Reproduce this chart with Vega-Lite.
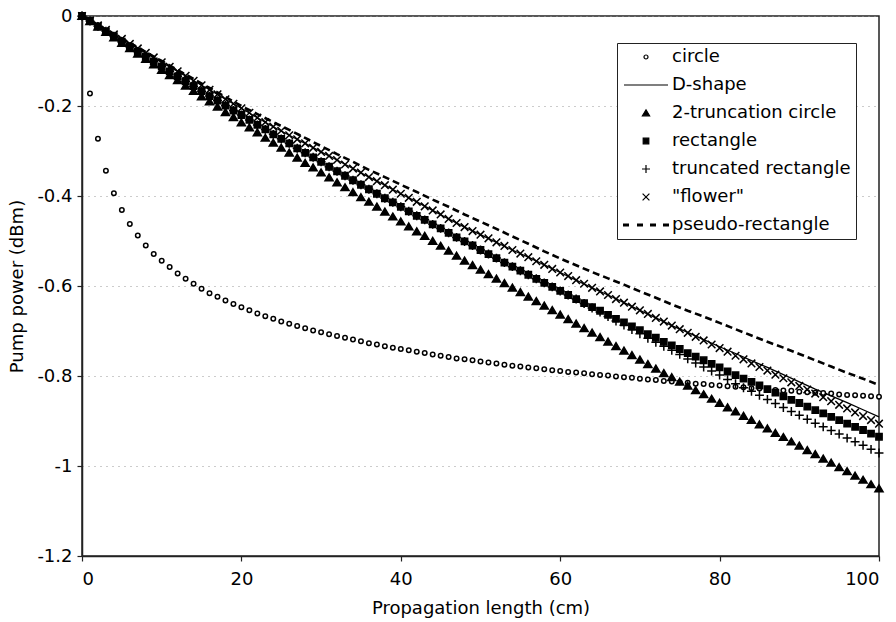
{
"$schema": "https://vega.github.io/schema/vega-lite/v6.json",
"width": 797, "height": 540,
"autosize": {"type": "none"},
"padding": {"left": 82, "top": 16, "right": 17, "bottom": 66},
"background": "white",
"config": {
  "font": "DejaVu Sans",
  "view": {"stroke": "#222", "strokeWidth": 1.5},
  "axis": {"labelFont": "DejaVu Sans", "titleFont": "DejaVu Sans", "labelFontSize": 18, "titleFontSize": 18, "titleFontWeight": "normal", "labelColor": "black", "titleColor": "black", "domainColor": "#222", "domainWidth": 1.5, "tickColor": "#222", "tickWidth": 1.2, "tickSize": 5}
},
"data": {"values": [
{"x":0,"s":"ci","y":0},{"x":1,"s":"ci","y":-0.172},{"x":2,"s":"ci","y":-0.273},{"x":3,"s":"ci","y":-0.344},{"x":4,"s":"ci","y":-0.394},{"x":5,"s":"ci","y":-0.431},{"x":6,"s":"ci","y":-0.462},{"x":7,"s":"ci","y":-0.488},{"x":8,"s":"ci","y":-0.51},{"x":9,"s":"ci","y":-0.529},{"x":10,"s":"ci","y":-0.544},{"x":11,"s":"ci","y":-0.558},{"x":12,"s":"ci","y":-0.572},{"x":13,"s":"ci","y":-0.584},{"x":14,"s":"ci","y":-0.595},{"x":15,"s":"ci","y":-0.606},{"x":16,"s":"ci","y":-0.616},{"x":17,"s":"ci","y":-0.624},{"x":18,"s":"ci","y":-0.632},{"x":19,"s":"ci","y":-0.64},{"x":20,"s":"ci","y":-0.647},{"x":21,"s":"ci","y":-0.654},{"x":22,"s":"ci","y":-0.661},{"x":23,"s":"ci","y":-0.667},{"x":24,"s":"ci","y":-0.673},{"x":25,"s":"ci","y":-0.679},{"x":26,"s":"ci","y":-0.684},{"x":27,"s":"ci","y":-0.689},{"x":28,"s":"ci","y":-0.694},{"x":29,"s":"ci","y":-0.699},{"x":30,"s":"ci","y":-0.703},{"x":31,"s":"ci","y":-0.707},{"x":32,"s":"ci","y":-0.711},{"x":33,"s":"ci","y":-0.715},{"x":34,"s":"ci","y":-0.719},{"x":35,"s":"ci","y":-0.723},{"x":36,"s":"ci","y":-0.727},{"x":37,"s":"ci","y":-0.73},{"x":38,"s":"ci","y":-0.734},{"x":39,"s":"ci","y":-0.737},{"x":40,"s":"ci","y":-0.74},{"x":41,"s":"ci","y":-0.743},{"x":42,"s":"ci","y":-0.746},{"x":43,"s":"ci","y":-0.749},{"x":44,"s":"ci","y":-0.752},{"x":45,"s":"ci","y":-0.755},{"x":46,"s":"ci","y":-0.758},{"x":47,"s":"ci","y":-0.761},{"x":48,"s":"ci","y":-0.763},{"x":49,"s":"ci","y":-0.765},{"x":50,"s":"ci","y":-0.768},{"x":51,"s":"ci","y":-0.77},{"x":52,"s":"ci","y":-0.772},{"x":53,"s":"ci","y":-0.775},{"x":54,"s":"ci","y":-0.777},{"x":55,"s":"ci","y":-0.779},{"x":56,"s":"ci","y":-0.781},{"x":57,"s":"ci","y":-0.783},{"x":58,"s":"ci","y":-0.785},{"x":59,"s":"ci","y":-0.787},{"x":60,"s":"ci","y":-0.789},{"x":61,"s":"ci","y":-0.791},{"x":62,"s":"ci","y":-0.792},{"x":63,"s":"ci","y":-0.794},{"x":64,"s":"ci","y":-0.796},{"x":65,"s":"ci","y":-0.798},{"x":66,"s":"ci","y":-0.799},{"x":67,"s":"ci","y":-0.801},{"x":68,"s":"ci","y":-0.803},{"x":69,"s":"ci","y":-0.804},{"x":70,"s":"ci","y":-0.806},{"x":71,"s":"ci","y":-0.808},{"x":72,"s":"ci","y":-0.809},{"x":73,"s":"ci","y":-0.811},{"x":74,"s":"ci","y":-0.812},{"x":75,"s":"ci","y":-0.814},{"x":76,"s":"ci","y":-0.815},{"x":77,"s":"ci","y":-0.817},{"x":78,"s":"ci","y":-0.818},{"x":79,"s":"ci","y":-0.82},{"x":80,"s":"ci","y":-0.821},{"x":81,"s":"ci","y":-0.823},{"x":82,"s":"ci","y":-0.824},{"x":83,"s":"ci","y":-0.825},{"x":84,"s":"ci","y":-0.827},{"x":85,"s":"ci","y":-0.828},{"x":86,"s":"ci","y":-0.829},{"x":87,"s":"ci","y":-0.831},{"x":88,"s":"ci","y":-0.832},{"x":89,"s":"ci","y":-0.833},{"x":90,"s":"ci","y":-0.835},{"x":91,"s":"ci","y":-0.836},{"x":92,"s":"ci","y":-0.837},{"x":93,"s":"ci","y":-0.838},{"x":94,"s":"ci","y":-0.839},{"x":95,"s":"ci","y":-0.841},{"x":96,"s":"ci","y":-0.842},{"x":97,"s":"ci","y":-0.843},{"x":98,"s":"ci","y":-0.844},{"x":99,"s":"ci","y":-0.845},{"x":100,"s":"ci","y":-0.846},
{"x":0,"s":"tr","y":0},{"x":1,"s":"tr","y":-0.012},{"x":2,"s":"tr","y":-0.024},{"x":3,"s":"tr","y":-0.036},{"x":4,"s":"tr","y":-0.048},{"x":5,"s":"tr","y":-0.06},{"x":6,"s":"tr","y":-0.072},{"x":7,"s":"tr","y":-0.084},{"x":8,"s":"tr","y":-0.096},{"x":9,"s":"tr","y":-0.108},{"x":10,"s":"tr","y":-0.12},{"x":11,"s":"tr","y":-0.132},{"x":12,"s":"tr","y":-0.143},{"x":13,"s":"tr","y":-0.155},{"x":14,"s":"tr","y":-0.167},{"x":15,"s":"tr","y":-0.179},{"x":16,"s":"tr","y":-0.19},{"x":17,"s":"tr","y":-0.202},{"x":18,"s":"tr","y":-0.214},{"x":19,"s":"tr","y":-0.225},{"x":20,"s":"tr","y":-0.237},{"x":21,"s":"tr","y":-0.248},{"x":22,"s":"tr","y":-0.259},{"x":23,"s":"tr","y":-0.271},{"x":24,"s":"tr","y":-0.282},{"x":25,"s":"tr","y":-0.293},{"x":26,"s":"tr","y":-0.304},{"x":27,"s":"tr","y":-0.315},{"x":28,"s":"tr","y":-0.327},{"x":29,"s":"tr","y":-0.337},{"x":30,"s":"tr","y":-0.348},{"x":31,"s":"tr","y":-0.359},{"x":32,"s":"tr","y":-0.37},{"x":33,"s":"tr","y":-0.381},{"x":34,"s":"tr","y":-0.392},{"x":35,"s":"tr","y":-0.403},{"x":36,"s":"tr","y":-0.413},{"x":37,"s":"tr","y":-0.424},{"x":38,"s":"tr","y":-0.435},{"x":39,"s":"tr","y":-0.446},{"x":40,"s":"tr","y":-0.457},{"x":41,"s":"tr","y":-0.468},{"x":42,"s":"tr","y":-0.479},{"x":43,"s":"tr","y":-0.489},{"x":44,"s":"tr","y":-0.5},{"x":45,"s":"tr","y":-0.511},{"x":46,"s":"tr","y":-0.522},{"x":47,"s":"tr","y":-0.533},{"x":48,"s":"tr","y":-0.544},{"x":49,"s":"tr","y":-0.554},{"x":50,"s":"tr","y":-0.564},{"x":51,"s":"tr","y":-0.574},{"x":52,"s":"tr","y":-0.584},{"x":53,"s":"tr","y":-0.594},{"x":54,"s":"tr","y":-0.604},{"x":55,"s":"tr","y":-0.614},{"x":56,"s":"tr","y":-0.624},{"x":57,"s":"tr","y":-0.634},{"x":58,"s":"tr","y":-0.644},{"x":59,"s":"tr","y":-0.654},{"x":60,"s":"tr","y":-0.664},{"x":61,"s":"tr","y":-0.674},{"x":62,"s":"tr","y":-0.684},{"x":63,"s":"tr","y":-0.694},{"x":64,"s":"tr","y":-0.704},{"x":65,"s":"tr","y":-0.714},{"x":66,"s":"tr","y":-0.724},{"x":67,"s":"tr","y":-0.734},{"x":68,"s":"tr","y":-0.744},{"x":69,"s":"tr","y":-0.754},{"x":70,"s":"tr","y":-0.764},{"x":71,"s":"tr","y":-0.774},{"x":72,"s":"tr","y":-0.784},{"x":73,"s":"tr","y":-0.794},{"x":74,"s":"tr","y":-0.803},{"x":75,"s":"tr","y":-0.813},{"x":76,"s":"tr","y":-0.822},{"x":77,"s":"tr","y":-0.832},{"x":78,"s":"tr","y":-0.841},{"x":79,"s":"tr","y":-0.851},{"x":80,"s":"tr","y":-0.86},{"x":81,"s":"tr","y":-0.87},{"x":82,"s":"tr","y":-0.879},{"x":83,"s":"tr","y":-0.889},{"x":84,"s":"tr","y":-0.898},{"x":85,"s":"tr","y":-0.908},{"x":86,"s":"tr","y":-0.917},{"x":87,"s":"tr","y":-0.927},{"x":88,"s":"tr","y":-0.936},{"x":89,"s":"tr","y":-0.946},{"x":90,"s":"tr","y":-0.955},{"x":91,"s":"tr","y":-0.965},{"x":92,"s":"tr","y":-0.974},{"x":93,"s":"tr","y":-0.984},{"x":94,"s":"tr","y":-0.993},{"x":95,"s":"tr","y":-1.003},{"x":96,"s":"tr","y":-1.012},{"x":97,"s":"tr","y":-1.022},{"x":98,"s":"tr","y":-1.031},{"x":99,"s":"tr","y":-1.041},{"x":100,"s":"tr","y":-1.05},
{"x":0,"s":"re","y":0},{"x":1,"s":"re","y":-0.011},{"x":2,"s":"re","y":-0.023},{"x":3,"s":"re","y":-0.034},{"x":4,"s":"re","y":-0.045},{"x":5,"s":"re","y":-0.057},{"x":6,"s":"re","y":-0.068},{"x":7,"s":"re","y":-0.079},{"x":8,"s":"re","y":-0.09},{"x":9,"s":"re","y":-0.101},{"x":10,"s":"re","y":-0.112},{"x":11,"s":"re","y":-0.123},{"x":12,"s":"re","y":-0.134},{"x":13,"s":"re","y":-0.145},{"x":14,"s":"re","y":-0.156},{"x":15,"s":"re","y":-0.167},{"x":16,"s":"re","y":-0.178},{"x":17,"s":"re","y":-0.188},{"x":18,"s":"re","y":-0.199},{"x":19,"s":"re","y":-0.21},{"x":20,"s":"re","y":-0.22},{"x":21,"s":"re","y":-0.231},{"x":22,"s":"re","y":-0.242},{"x":23,"s":"re","y":-0.252},{"x":24,"s":"re","y":-0.263},{"x":25,"s":"re","y":-0.273},{"x":26,"s":"re","y":-0.283},{"x":27,"s":"re","y":-0.294},{"x":28,"s":"re","y":-0.304},{"x":29,"s":"re","y":-0.314},{"x":30,"s":"re","y":-0.324},{"x":31,"s":"re","y":-0.335},{"x":32,"s":"re","y":-0.345},{"x":33,"s":"re","y":-0.355},{"x":34,"s":"re","y":-0.365},{"x":35,"s":"re","y":-0.375},{"x":36,"s":"re","y":-0.385},{"x":37,"s":"re","y":-0.395},{"x":38,"s":"re","y":-0.405},{"x":39,"s":"re","y":-0.414},{"x":40,"s":"re","y":-0.424},{"x":41,"s":"re","y":-0.434},{"x":42,"s":"re","y":-0.444},{"x":43,"s":"re","y":-0.453},{"x":44,"s":"re","y":-0.463},{"x":45,"s":"re","y":-0.472},{"x":46,"s":"re","y":-0.482},{"x":47,"s":"re","y":-0.492},{"x":48,"s":"re","y":-0.501},{"x":49,"s":"re","y":-0.51},{"x":50,"s":"re","y":-0.52},{"x":51,"s":"re","y":-0.529},{"x":52,"s":"re","y":-0.538},{"x":53,"s":"re","y":-0.548},{"x":54,"s":"re","y":-0.557},{"x":55,"s":"re","y":-0.566},{"x":56,"s":"re","y":-0.575},{"x":57,"s":"re","y":-0.584},{"x":58,"s":"re","y":-0.593},{"x":59,"s":"re","y":-0.602},{"x":60,"s":"re","y":-0.611},{"x":61,"s":"re","y":-0.62},{"x":62,"s":"re","y":-0.629},{"x":63,"s":"re","y":-0.638},{"x":64,"s":"re","y":-0.647},{"x":65,"s":"re","y":-0.655},{"x":66,"s":"re","y":-0.664},{"x":67,"s":"re","y":-0.673},{"x":68,"s":"re","y":-0.681},{"x":69,"s":"re","y":-0.69},{"x":70,"s":"re","y":-0.698},{"x":71,"s":"re","y":-0.707},{"x":72,"s":"re","y":-0.715},{"x":73,"s":"re","y":-0.724},{"x":74,"s":"re","y":-0.732},{"x":75,"s":"re","y":-0.74},{"x":76,"s":"re","y":-0.749},{"x":77,"s":"re","y":-0.757},{"x":78,"s":"re","y":-0.765},{"x":79,"s":"re","y":-0.773},{"x":80,"s":"re","y":-0.781},{"x":81,"s":"re","y":-0.79},{"x":82,"s":"re","y":-0.798},{"x":83,"s":"re","y":-0.806},{"x":84,"s":"re","y":-0.813},{"x":85,"s":"re","y":-0.821},{"x":86,"s":"re","y":-0.829},{"x":87,"s":"re","y":-0.837},{"x":88,"s":"re","y":-0.845},{"x":89,"s":"re","y":-0.853},{"x":90,"s":"re","y":-0.86},{"x":91,"s":"re","y":-0.868},{"x":92,"s":"re","y":-0.876},{"x":93,"s":"re","y":-0.883},{"x":94,"s":"re","y":-0.891},{"x":95,"s":"re","y":-0.898},{"x":96,"s":"re","y":-0.906},{"x":97,"s":"re","y":-0.913},{"x":98,"s":"re","y":-0.92},{"x":99,"s":"re","y":-0.928},{"x":100,"s":"re","y":-0.935},
{"x":0,"s":"tre","y":0},{"x":1,"s":"tre","y":-0.011},{"x":2,"s":"tre","y":-0.023},{"x":3,"s":"tre","y":-0.034},{"x":4,"s":"tre","y":-0.045},{"x":5,"s":"tre","y":-0.057},{"x":6,"s":"tre","y":-0.068},{"x":7,"s":"tre","y":-0.079},{"x":8,"s":"tre","y":-0.09},{"x":9,"s":"tre","y":-0.101},{"x":10,"s":"tre","y":-0.112},{"x":11,"s":"tre","y":-0.123},{"x":12,"s":"tre","y":-0.134},{"x":13,"s":"tre","y":-0.145},{"x":14,"s":"tre","y":-0.156},{"x":15,"s":"tre","y":-0.167},{"x":16,"s":"tre","y":-0.178},{"x":17,"s":"tre","y":-0.188},{"x":18,"s":"tre","y":-0.199},{"x":19,"s":"tre","y":-0.21},{"x":20,"s":"tre","y":-0.22},{"x":21,"s":"tre","y":-0.231},{"x":22,"s":"tre","y":-0.242},{"x":23,"s":"tre","y":-0.252},{"x":24,"s":"tre","y":-0.263},{"x":25,"s":"tre","y":-0.273},{"x":26,"s":"tre","y":-0.283},{"x":27,"s":"tre","y":-0.294},{"x":28,"s":"tre","y":-0.304},{"x":29,"s":"tre","y":-0.314},{"x":30,"s":"tre","y":-0.324},{"x":31,"s":"tre","y":-0.335},{"x":32,"s":"tre","y":-0.345},{"x":33,"s":"tre","y":-0.355},{"x":34,"s":"tre","y":-0.365},{"x":35,"s":"tre","y":-0.375},{"x":36,"s":"tre","y":-0.385},{"x":37,"s":"tre","y":-0.395},{"x":38,"s":"tre","y":-0.405},{"x":39,"s":"tre","y":-0.414},{"x":40,"s":"tre","y":-0.424},{"x":41,"s":"tre","y":-0.434},{"x":42,"s":"tre","y":-0.444},{"x":43,"s":"tre","y":-0.453},{"x":44,"s":"tre","y":-0.463},{"x":45,"s":"tre","y":-0.472},{"x":46,"s":"tre","y":-0.482},{"x":47,"s":"tre","y":-0.492},{"x":48,"s":"tre","y":-0.501},{"x":49,"s":"tre","y":-0.51},{"x":50,"s":"tre","y":-0.52},{"x":51,"s":"tre","y":-0.529},{"x":52,"s":"tre","y":-0.538},{"x":53,"s":"tre","y":-0.548},{"x":54,"s":"tre","y":-0.557},{"x":55,"s":"tre","y":-0.566},{"x":56,"s":"tre","y":-0.575},{"x":57,"s":"tre","y":-0.584},{"x":58,"s":"tre","y":-0.593},{"x":59,"s":"tre","y":-0.602},{"x":60,"s":"tre","y":-0.611},{"x":61,"s":"tre","y":-0.62},{"x":62,"s":"tre","y":-0.629},{"x":63,"s":"tre","y":-0.639},{"x":64,"s":"tre","y":-0.649},{"x":65,"s":"tre","y":-0.658},{"x":66,"s":"tre","y":-0.668},{"x":67,"s":"tre","y":-0.678},{"x":68,"s":"tre","y":-0.687},{"x":69,"s":"tre","y":-0.697},{"x":70,"s":"tre","y":-0.706},{"x":71,"s":"tre","y":-0.716},{"x":72,"s":"tre","y":-0.725},{"x":73,"s":"tre","y":-0.734},{"x":74,"s":"tre","y":-0.743},{"x":75,"s":"tre","y":-0.752},{"x":76,"s":"tre","y":-0.762},{"x":77,"s":"tre","y":-0.771},{"x":78,"s":"tre","y":-0.78},{"x":79,"s":"tre","y":-0.789},{"x":80,"s":"tre","y":-0.798},{"x":81,"s":"tre","y":-0.808},{"x":82,"s":"tre","y":-0.817},{"x":83,"s":"tre","y":-0.826},{"x":84,"s":"tre","y":-0.834},{"x":85,"s":"tre","y":-0.843},{"x":86,"s":"tre","y":-0.852},{"x":87,"s":"tre","y":-0.861},{"x":88,"s":"tre","y":-0.87},{"x":89,"s":"tre","y":-0.879},{"x":90,"s":"tre","y":-0.887},{"x":91,"s":"tre","y":-0.896},{"x":92,"s":"tre","y":-0.905},{"x":93,"s":"tre","y":-0.913},{"x":94,"s":"tre","y":-0.921},{"x":95,"s":"tre","y":-0.929},{"x":96,"s":"tre","y":-0.938},{"x":97,"s":"tre","y":-0.946},{"x":98,"s":"tre","y":-0.954},{"x":99,"s":"tre","y":-0.963},{"x":100,"s":"tre","y":-0.971},
{"x":0,"s":"fl","y":0},{"x":1,"s":"fl","y":-0.01},{"x":2,"s":"fl","y":-0.021},{"x":3,"s":"fl","y":-0.031},{"x":4,"s":"fl","y":-0.041},{"x":5,"s":"fl","y":-0.051},{"x":6,"s":"fl","y":-0.062},{"x":7,"s":"fl","y":-0.072},{"x":8,"s":"fl","y":-0.082},{"x":9,"s":"fl","y":-0.092},{"x":10,"s":"fl","y":-0.103},{"x":11,"s":"fl","y":-0.113},{"x":12,"s":"fl","y":-0.123},{"x":13,"s":"fl","y":-0.133},{"x":14,"s":"fl","y":-0.144},{"x":15,"s":"fl","y":-0.154},{"x":16,"s":"fl","y":-0.164},{"x":17,"s":"fl","y":-0.174},{"x":18,"s":"fl","y":-0.185},{"x":19,"s":"fl","y":-0.195},{"x":20,"s":"fl","y":-0.205},{"x":21,"s":"fl","y":-0.215},{"x":22,"s":"fl","y":-0.226},{"x":23,"s":"fl","y":-0.236},{"x":24,"s":"fl","y":-0.246},{"x":25,"s":"fl","y":-0.255},{"x":26,"s":"fl","y":-0.265},{"x":27,"s":"fl","y":-0.274},{"x":28,"s":"fl","y":-0.283},{"x":29,"s":"fl","y":-0.293},{"x":30,"s":"fl","y":-0.302},{"x":31,"s":"fl","y":-0.311},{"x":32,"s":"fl","y":-0.32},{"x":33,"s":"fl","y":-0.33},{"x":34,"s":"fl","y":-0.339},{"x":35,"s":"fl","y":-0.348},{"x":36,"s":"fl","y":-0.358},{"x":37,"s":"fl","y":-0.367},{"x":38,"s":"fl","y":-0.376},{"x":39,"s":"fl","y":-0.386},{"x":40,"s":"fl","y":-0.395},{"x":41,"s":"fl","y":-0.404},{"x":42,"s":"fl","y":-0.413},{"x":43,"s":"fl","y":-0.423},{"x":44,"s":"fl","y":-0.432},{"x":45,"s":"fl","y":-0.441},{"x":46,"s":"fl","y":-0.451},{"x":47,"s":"fl","y":-0.46},{"x":48,"s":"fl","y":-0.469},{"x":49,"s":"fl","y":-0.478},{"x":50,"s":"fl","y":-0.486},{"x":51,"s":"fl","y":-0.494},{"x":52,"s":"fl","y":-0.503},{"x":53,"s":"fl","y":-0.511},{"x":54,"s":"fl","y":-0.52},{"x":55,"s":"fl","y":-0.528},{"x":56,"s":"fl","y":-0.536},{"x":57,"s":"fl","y":-0.545},{"x":58,"s":"fl","y":-0.553},{"x":59,"s":"fl","y":-0.562},{"x":60,"s":"fl","y":-0.57},{"x":61,"s":"fl","y":-0.578},{"x":62,"s":"fl","y":-0.587},{"x":63,"s":"fl","y":-0.595},{"x":64,"s":"fl","y":-0.604},{"x":65,"s":"fl","y":-0.612},{"x":66,"s":"fl","y":-0.62},{"x":67,"s":"fl","y":-0.629},{"x":68,"s":"fl","y":-0.637},{"x":69,"s":"fl","y":-0.646},{"x":70,"s":"fl","y":-0.654},{"x":71,"s":"fl","y":-0.662},{"x":72,"s":"fl","y":-0.671},{"x":73,"s":"fl","y":-0.679},{"x":74,"s":"fl","y":-0.688},{"x":75,"s":"fl","y":-0.696},{"x":76,"s":"fl","y":-0.704},{"x":77,"s":"fl","y":-0.713},{"x":78,"s":"fl","y":-0.721},{"x":79,"s":"fl","y":-0.73},{"x":80,"s":"fl","y":-0.738},{"x":81,"s":"fl","y":-0.746},{"x":82,"s":"fl","y":-0.755},{"x":83,"s":"fl","y":-0.763},{"x":84,"s":"fl","y":-0.772},{"x":85,"s":"fl","y":-0.78},{"x":86,"s":"fl","y":-0.788},{"x":87,"s":"fl","y":-0.797},{"x":88,"s":"fl","y":-0.805},{"x":89,"s":"fl","y":-0.814},{"x":90,"s":"fl","y":-0.822},{"x":91,"s":"fl","y":-0.83},{"x":92,"s":"fl","y":-0.839},{"x":93,"s":"fl","y":-0.847},{"x":94,"s":"fl","y":-0.856},{"x":95,"s":"fl","y":-0.864},{"x":96,"s":"fl","y":-0.872},{"x":97,"s":"fl","y":-0.881},{"x":98,"s":"fl","y":-0.889},{"x":99,"s":"fl","y":-0.898},{"x":100,"s":"fl","y":-0.906},
{"x":0,"s":"D","y":0},{"x":2,"s":"D","y":-0.021},{"x":4,"s":"D","y":-0.041},{"x":6,"s":"D","y":-0.062},{"x":8,"s":"D","y":-0.082},{"x":10,"s":"D","y":-0.103},{"x":12,"s":"D","y":-0.123},{"x":14,"s":"D","y":-0.144},{"x":16,"s":"D","y":-0.164},{"x":18,"s":"D","y":-0.185},{"x":20,"s":"D","y":-0.205},{"x":22,"s":"D","y":-0.226},{"x":24,"s":"D","y":-0.246},{"x":26,"s":"D","y":-0.265},{"x":28,"s":"D","y":-0.283},{"x":30,"s":"D","y":-0.302},{"x":32,"s":"D","y":-0.32},{"x":34,"s":"D","y":-0.339},{"x":36,"s":"D","y":-0.358},{"x":38,"s":"D","y":-0.376},{"x":40,"s":"D","y":-0.395},{"x":42,"s":"D","y":-0.413},{"x":44,"s":"D","y":-0.432},{"x":46,"s":"D","y":-0.451},{"x":48,"s":"D","y":-0.469},{"x":50,"s":"D","y":-0.486},{"x":52,"s":"D","y":-0.503},{"x":54,"s":"D","y":-0.52},{"x":56,"s":"D","y":-0.536},{"x":58,"s":"D","y":-0.553},{"x":60,"s":"D","y":-0.57},{"x":62,"s":"D","y":-0.587},{"x":64,"s":"D","y":-0.604},{"x":66,"s":"D","y":-0.62},{"x":68,"s":"D","y":-0.637},{"x":70,"s":"D","y":-0.654},{"x":72,"s":"D","y":-0.671},{"x":74,"s":"D","y":-0.688},{"x":76,"s":"D","y":-0.703},{"x":78,"s":"D","y":-0.719},{"x":80,"s":"D","y":-0.735},{"x":82,"s":"D","y":-0.75},{"x":84,"s":"D","y":-0.766},{"x":86,"s":"D","y":-0.781},{"x":88,"s":"D","y":-0.797},{"x":90,"s":"D","y":-0.813},{"x":92,"s":"D","y":-0.829},{"x":94,"s":"D","y":-0.844},{"x":96,"s":"D","y":-0.859},{"x":98,"s":"D","y":-0.875},{"x":100,"s":"D","y":-0.891},
{"x":0,"s":"ps","y":0},{"x":2,"s":"ps","y":-0.02},{"x":4,"s":"ps","y":-0.04},{"x":6,"s":"ps","y":-0.06},{"x":8,"s":"ps","y":-0.08},{"x":10,"s":"ps","y":-0.1},{"x":12,"s":"ps","y":-0.12},{"x":14,"s":"ps","y":-0.14},{"x":16,"s":"ps","y":-0.16},{"x":18,"s":"ps","y":-0.18},{"x":20,"s":"ps","y":-0.2},{"x":22,"s":"ps","y":-0.218},{"x":24,"s":"ps","y":-0.236},{"x":26,"s":"ps","y":-0.253},{"x":28,"s":"ps","y":-0.271},{"x":30,"s":"ps","y":-0.289},{"x":32,"s":"ps","y":-0.307},{"x":34,"s":"ps","y":-0.324},{"x":36,"s":"ps","y":-0.342},{"x":38,"s":"ps","y":-0.358},{"x":40,"s":"ps","y":-0.375},{"x":42,"s":"ps","y":-0.391},{"x":44,"s":"ps","y":-0.408},{"x":46,"s":"ps","y":-0.424},{"x":48,"s":"ps","y":-0.441},{"x":50,"s":"ps","y":-0.457},{"x":52,"s":"ps","y":-0.473},{"x":54,"s":"ps","y":-0.49},{"x":56,"s":"ps","y":-0.506},{"x":58,"s":"ps","y":-0.523},{"x":60,"s":"ps","y":-0.539},{"x":62,"s":"ps","y":-0.554},{"x":64,"s":"ps","y":-0.569},{"x":66,"s":"ps","y":-0.583},{"x":68,"s":"ps","y":-0.597},{"x":70,"s":"ps","y":-0.612},{"x":72,"s":"ps","y":-0.626},{"x":74,"s":"ps","y":-0.641},{"x":76,"s":"ps","y":-0.655},{"x":78,"s":"ps","y":-0.668},{"x":80,"s":"ps","y":-0.682},{"x":82,"s":"ps","y":-0.696},{"x":84,"s":"ps","y":-0.71},{"x":86,"s":"ps","y":-0.724},{"x":88,"s":"ps","y":-0.737},{"x":90,"s":"ps","y":-0.751},{"x":92,"s":"ps","y":-0.765},{"x":94,"s":"ps","y":-0.779},{"x":96,"s":"ps","y":-0.793},{"x":98,"s":"ps","y":-0.806},{"x":100,"s":"ps","y":-0.82}
]},
"encoding": {
  "x": {"field": "x", "type": "quantitative", "scale": {"domain": [0, 100], "nice": false}, "axis": {"values": [0, 20, 40, 60, 80, 100], "grid": false, "title": "Propagation length (cm)", "labelPadding": 9, "titlePadding": 11}},
  "y": {"field": "y", "type": "quantitative", "scale": {"domain": [-1.2, 0], "nice": false}, "axis": {"values": [-1.2, -1, -0.8, -0.6, -0.4, -0.2, 0], "grid": true, "gridDash": [1, 5], "gridColor": "#999", "gridWidth": 1, "labelExpr": "'' + datum.value", "title": "Pump power (dBm)", "labelPadding": 5, "titlePadding": 10}}
},
"layer": [
  {"transform": [{"filter": "datum.s == 'ps'"}], "mark": {"type": "line", "color": "black", "strokeWidth": 2.6, "strokeDash": [7, 4]}},
  {"transform": [{"filter": "datum.s == 'D'"}], "mark": {"type": "line", "color": "black", "strokeWidth": 1.3}},
  {"transform": [{"filter": {"field": "s", "oneOf": ["ci", "tr", "re", "tre", "fl"]}}],
   "mark": {"type": "point", "size": 20, "strokeWidth": 1.5, "opacity": 1},
   "encoding": {
     "shape": {"field": "s", "type": "nominal",
       "scale": {"domain": ["ci", "D", "tr", "re", "tre", "fl", "ps"],
                 "range": ["circle", "M-11,0H11", "M0,-1.6L1.8,1.4L-1.8,1.4Z", "M-1.4,-1.4H1.4V1.4H-1.4Z", "M-2,0H2M0,-2V2", "M-1.7,-1.7L1.7,1.7M-1.7,1.7L1.7,-1.7", "M-11.5,-0.75H-8.5V0.75H-11.5ZM-4.5,-0.75H-1.5V0.75H-4.5ZM2,-0.75H5V0.75H2ZM8.5,-0.75H11.5V0.75H8.5Z"]},
       "legend": {"title": null, "orient": "none", "legendX": 535, "legendY": 27, "labelExpr": "{'ci':'circle','D':'D-shape','tr':'2-truncation circle','re':'rectangle','tre':'truncated rectangle','fl':'\"flower\"','ps':'pseudo-rectangle'}[datum.label]", "symbolSize": 16, "symbolStrokeWidth": 1.2, "labelFontSize": 18, "labelFont": "DejaVu Sans", "labelColor": "black", "rowPadding": 10, "padding": 5, "strokeColor": "#222", "fillColor": "white", "symbolOffset": 15, "labelOffset": 17, "labelLimit": 300}},
     "fill": {"field": "s", "type": "nominal",
       "scale": {"domain": ["ci", "D", "tr", "re", "tre", "fl", "ps"], "range": ["white", "transparent", "black", "black", "transparent", "transparent", "black"]},
       "legend": {"title": null, "orient": "none", "legendX": 535, "legendY": 27, "labelExpr": "{'ci':'circle','D':'D-shape','tr':'2-truncation circle','re':'rectangle','tre':'truncated rectangle','fl':'\"flower\"','ps':'pseudo-rectangle'}[datum.label]", "symbolSize": 16, "symbolStrokeWidth": 1.2, "labelFontSize": 18, "labelFont": "DejaVu Sans", "labelColor": "black", "rowPadding": 10, "padding": 5, "strokeColor": "#222", "fillColor": "white", "symbolOffset": 15, "labelOffset": 17, "labelLimit": 300}},
     "stroke": {"field": "s", "type": "nominal",
       "scale": {"domain": ["ci", "D", "tr", "re", "tre", "fl", "ps"], "range": ["black", "black", "black", "black", "black", "black", "transparent"]},
       "legend": {"title": null, "orient": "none", "legendX": 535, "legendY": 27, "labelExpr": "{'ci':'circle','D':'D-shape','tr':'2-truncation circle','re':'rectangle','tre':'truncated rectangle','fl':'\"flower\"','ps':'pseudo-rectangle'}[datum.label]", "symbolSize": 16, "symbolStrokeWidth": 1.2, "labelFontSize": 18, "labelFont": "DejaVu Sans", "labelColor": "black", "rowPadding": 10, "padding": 5, "strokeColor": "#222", "fillColor": "white", "symbolOffset": 15, "labelOffset": 17, "labelLimit": 300}}
   }}
]
}
